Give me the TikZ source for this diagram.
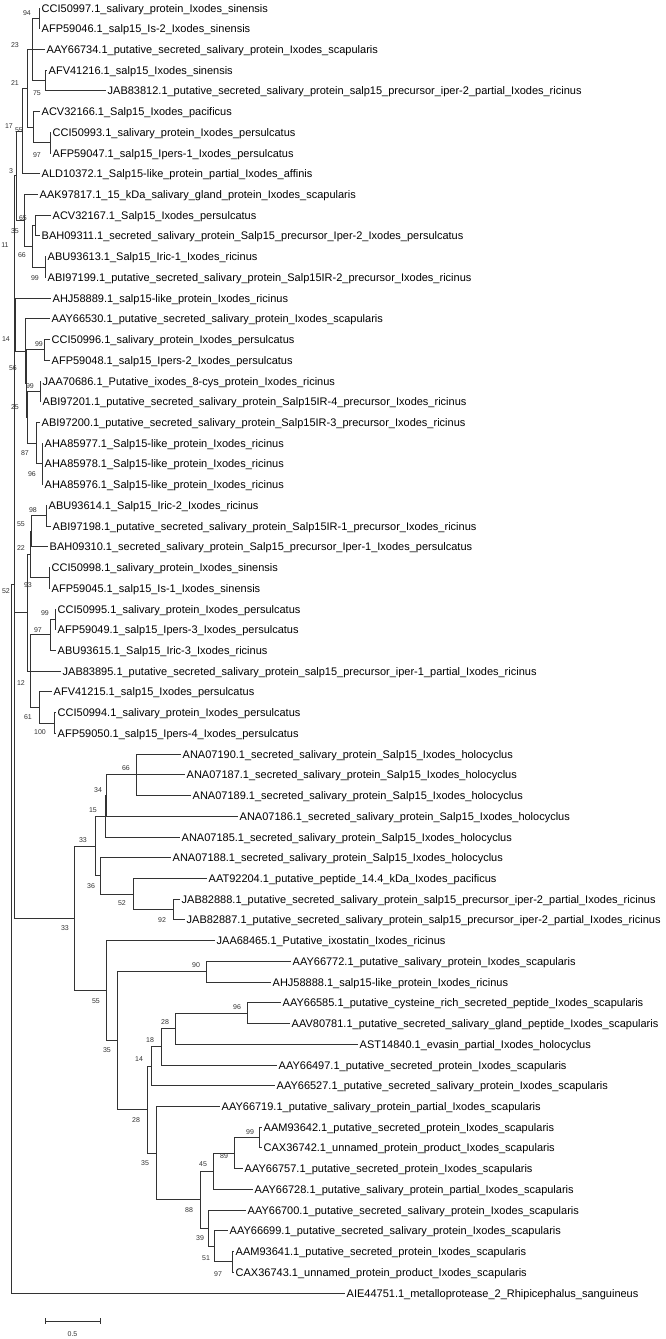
\documentclass[tikz,border=0pt]{standalone}
\usepackage{fontspec}
\setmainfont{Liberation Sans}
\usetikzlibrary{calc}
\tikzset{
 leaf/.style={anchor=west, inner xsep=1.5pt, inner ysep=0pt, text height=8pt, text depth=0pt, font=\fontsize{11}{11}\selectfont, text=black},
 bs/.style={inner sep=0pt, font=\fontsize{7}{7}\selectfont, text=black!80},
 br/.style={draw=black!80, line width=1pt},
}
\newcommand\lf[3]{\node[leaf] (l#1) at (#2,{8+(#1-1)*20.726}) {#3};}
\newcommand\tn[4]{\path let \p1=(#3), \p2=(#4) in ({#2pt},{(\y1+\y2)/2}) coordinate (#1);
 \draw[br] (#1) |- (#3); \draw[br] (#1) |- (#4);}
\newcommand\tnm[5]{\path let \p1=(#3), \p2=(#5) in ({#2pt},{(\y1+\y2)/2}) coordinate (#1);
 \draw[br] (#1) |- (#3); \draw[br] (#1) |- (#4); \draw[br] (#1) |- (#5);}
\begin{document}
\begin{tikzpicture}[x=1pt,y=-1pt]
\useasboundingbox (0,0) rectangle (665,1339);
\lf{1}{40}{CCI50997.1\_salivary\_protein\_Ixodes\_sinensis}
\lf{2}{40}{AFP59046.1\_salp15\_Is-2\_Ixodes\_sinensis}
\lf{3}{45}{AAY66734.1\_putative\_secreted\_salivary\_protein\_Ixodes\_scapularis}
\lf{4}{47}{AFV41216.1\_salp15\_Ixodes\_sinensis}
\lf{5}{106}{JAB83812.1\_putative\_secreted\_salivary\_protein\_salp15\_precursor\_iper-2\_partial\_Ixodes\_ricinus}
\lf{6}{40}{ACV32166.1\_Salp15\_Ixodes\_pacificus}
\lf{7}{51}{CCI50993.1\_salivary\_protein\_Ixodes\_persulcatus}
\lf{8}{51}{AFP59047.1\_salp15\_Ipers-1\_Ixodes\_persulcatus}
\lf{9}{40}{ALD10372.1\_Salp15-like\_protein\_partial\_Ixodes\_affinis}
\lf{10}{38}{AAK97817.1\_15\_kDa\_salivary\_gland\_protein\_Ixodes\_scapularis}
\lf{11}{51}{ACV32167.1\_Salp15\_Ixodes\_persulcatus}
\lf{12}{40}{BAH09311.1\_secreted\_salivary\_protein\_Salp15\_precursor\_Iper-2\_Ixodes\_persulcatus}
\lf{13}{46}{ABU93613.1\_Salp15\_Iric-1\_Ixodes\_ricinus}
\lf{14}{46}{ABI97199.1\_putative\_secreted\_salivary\_protein\_Salp15IR-2\_precursor\_Ixodes\_ricinus}
\lf{15}{51}{AHJ58889.1\_salp15-like\_protein\_Ixodes\_ricinus}
\lf{16}{50}{AAY66530.1\_putative\_secreted\_salivary\_protein\_Ixodes\_scapularis}
\lf{17}{50}{CCI50996.1\_salivary\_protein\_Ixodes\_persulcatus}
\lf{18}{50}{AFP59048.1\_salp15\_Ipers-2\_Ixodes\_persulcatus}
\lf{19}{41}{JAA70686.1\_Putative\_ixodes\_8-cys\_protein\_Ixodes\_ricinus}
\lf{20}{41}{ABI97201.1\_putative\_secreted\_salivary\_protein\_Salp15IR-4\_precursor\_Ixodes\_ricinus}
\lf{21}{40}{ABI97200.1\_putative\_secreted\_salivary\_protein\_Salp15IR-3\_precursor\_Ixodes\_ricinus}
\lf{22}{43}{AHA85977.1\_Salp15-like\_protein\_Ixodes\_ricinus}
\lf{23}{43}{AHA85978.1\_Salp15-like\_protein\_Ixodes\_ricinus}
\lf{24}{43}{AHA85976.1\_Salp15-like\_protein\_Ixodes\_ricinus}
\lf{25}{47}{ABU93614.1\_Salp15\_Iric-2\_Ixodes\_ricinus}
\lf{26}{51}{ABI97198.1\_putative\_secreted\_salivary\_protein\_Salp15IR-1\_precursor\_Ixodes\_ricinus}
\lf{27}{48}{BAH09310.1\_secreted\_salivary\_protein\_Salp15\_precursor\_Iper-1\_Ixodes\_persulcatus}
\lf{28}{50}{CCI50998.1\_salivary\_protein\_Ixodes\_sinensis}
\lf{29}{50}{AFP59045.1\_salp15\_Is-1\_Ixodes\_sinensis}
\lf{30}{56}{CCI50995.1\_salivary\_protein\_Ixodes\_persulcatus}
\lf{31}{56}{AFP59049.1\_salp15\_Ipers-3\_Ixodes\_persulcatus}
\lf{32}{56}{ABU93615.1\_Salp15\_Iric-3\_Ixodes\_ricinus}
\lf{33}{61}{JAB83895.1\_putative\_secreted\_salivary\_protein\_salp15\_precursor\_iper-1\_partial\_Ixodes\_ricinus}
\lf{34}{52}{AFV41215.1\_salp15\_Ixodes\_persulcatus}
\lf{35}{56}{CCI50994.1\_salivary\_protein\_Ixodes\_persulcatus}
\lf{36}{56}{AFP59050.1\_salp15\_Ipers-4\_Ixodes\_persulcatus}
\lf{37}{181}{ANA07190.1\_secreted\_salivary\_protein\_Salp15\_Ixodes\_holocyclus}
\lf{38}{185}{ANA07187.1\_secreted\_salivary\_protein\_Salp15\_Ixodes\_holocyclus}
\lf{39}{191}{ANA07189.1\_secreted\_salivary\_protein\_Salp15\_Ixodes\_holocyclus}
\lf{40}{238}{ANA07186.1\_secreted\_salivary\_protein\_Salp15\_Ixodes\_holocyclus}
\lf{41}{180}{ANA07185.1\_secreted\_salivary\_protein\_Salp15\_Ixodes\_holocyclus}
\lf{42}{171}{ANA07188.1\_secreted\_salivary\_protein\_Salp15\_Ixodes\_holocyclus}
\lf{43}{207}{AAT92204.1\_putative\_peptide\_14.4\_kDa\_Ixodes\_pacificus}
\lf{44}{180}{JAB82888.1\_putative\_secreted\_salivary\_protein\_salp15\_precursor\_iper-2\_partial\_Ixodes\_ricinus}
\lf{45}{185}{JAB82887.1\_putative\_secreted\_salivary\_protein\_salp15\_precursor\_iper-2\_partial\_Ixodes\_ricinus}
\lf{46}{215}{JAA68465.1\_Putative\_ixostatin\_Ixodes\_ricinus}
\lf{47}{291}{AAY66772.1\_putative\_salivary\_protein\_Ixodes\_scapularis}
\lf{48}{271}{AHJ58888.1\_salp15-like\_protein\_Ixodes\_ricinus}
\lf{49}{281}{AAY66585.1\_putative\_cysteine\_rich\_secreted\_peptide\_Ixodes\_scapularis}
\lf{50}{290}{AAV80781.1\_putative\_secreted\_salivary\_gland\_peptide\_Ixodes\_scapularis}
\lf{51}{358}{AST14840.1\_evasin\_partial\_Ixodes\_holocyclus}
\lf{52}{277}{AAY66497.1\_putative\_secreted\_protein\_Ixodes\_scapularis}
\lf{53}{275}{AAY66527.1\_putative\_secreted\_salivary\_protein\_Ixodes\_scapularis}
\lf{54}{220}{AAY66719.1\_putative\_salivary\_protein\_partial\_Ixodes\_scapularis}
\lf{55}{262}{AAM93642.1\_putative\_secreted\_protein\_Ixodes\_scapularis}
\lf{56}{262}{CAX36742.1\_unnamed\_protein\_product\_Ixodes\_scapularis}
\lf{57}{243}{AAY66757.1\_putative\_secreted\_protein\_Ixodes\_scapularis}
\lf{58}{253}{AAY66728.1\_putative\_salivary\_protein\_partial\_Ixodes\_scapularis}
\lf{59}{246}{AAY66700.1\_putative\_secreted\_salivary\_protein\_Ixodes\_scapularis}
\lf{60}{228}{AAY66699.1\_putative\_secreted\_salivary\_protein\_Ixodes\_scapularis}
\lf{61}{234}{AAM93641.1\_putative\_secreted\_protein\_Ixodes\_scapularis}
\lf{62}{234}{CAX36743.1\_unnamed\_protein\_product\_Ixodes\_scapularis}
\lf{63}{345}{AIE44751.1\_metalloprotease\_2\_Rhipicephalus\_sanguineus}
% upper clade
\tn{A1}{39}{l1.west}{l2.west}
\tn{B}{45}{l4.west}{l5.west}
\tnm{N}{32}{A1}{l3.west}{B}
\tn{G}{50}{l7.west}{l8.west}
\tn{F}{33}{l6.west}{G}
\tn{M1}{27}{N}{F}
\tn{M2}{22}{M1}{l9.west}
\tn{I1}{35}{l11.west}{l12.west}
\tn{I2}{45}{l13.west}{l14.west}
\tn{I3}{32}{I1}{I2}
\tn{I4}{24}{l10.west}{I3}
\tn{M3}{16}{M2}{I4}
\tn{Ka}{44}{l17.west}{l18.west}
\tn{Kb}{40}{l19.west}{l20.west}
\tnm{Kd}{42}{l22.west}{l23.west}{l24.west}
\tn{Ke}{36}{l21.west}{Kd}
\tn{Kf}{27.5}{Kb}{Ke}
\tn{Kg}{26.5}{Ka}{Kf}
\tn{Kh}{25.5}{l16.west}{Kg}
\tn{TB}{15.5}{l15.west}{Kh}
\tn{TC}{14.8}{M3}{TB}
\tn{P1}{46}{l25.west}{l26.west}
\tn{P2}{31.5}{P1}{l27.west}
\tn{P4}{49}{l28.west}{l29.west}
\tn{P3}{30.5}{P2}{P4}
\tn{Q0}{55}{l30.west}{l31.west}
\tn{Q1}{50}{Q0}{l32.west}
\tn{Q3p}{54}{l35.west}{l36.west}
\tn{Q3}{39}{l34.west}{Q3p}
\tnm{Q5}{30}{Q1}{l33.west}{Q3}
\tn{T1}{27}{P3}{Q5}
% lower clade
\tnm{R1}{136}{l37.west}{l38.west}{l39.west}
\tn{R2}{106}{R1}{l40.west}
\tn{R3}{105}{R2}{l41.west}
\tn{S2}{173}{l44.west}{l45.west}
\tn{S1}{133}{l43.west}{S2}
\tn{S3}{100}{l42.west}{S1}
\tn{R4}{95}{R3}{S3}
\tn{V}{206}{l47.west}{l48.west}
\tn{Y1}{247}{l49.west}{l50.west}
\tn{Y2}{175}{Y1}{l51.west}
\tn{Y3}{161}{Y2}{l52.west}
\tn{Y4}{151}{Y3}{l53.west}
\tn{Z0}{259}{l55.west}{l56.west}
\tn{Z1a}{234}{Z0}{l57.west}
\tn{Z1}{213}{Z1a}{l58.west}
\tn{Z2b}{232}{l61.west}{l62.west}
\tn{Z2a}{214}{l60.west}{Z2b}
\tn{Z2}{208}{l59.west}{Z2a}
\tn{Z}{200}{Z1}{Z2}
\tn{X2}{156}{l54.west}{Z}
\tn{W}{147}{Y4}{X2}
\tn{U}{117}{V}{W}
\tn{T}{106}{l46.west}{U}
\tn{R5}{74}{R4}{T}
% base
\tnm{X0}{14}{TC}{T1}{R5}
\tn{Rt}{11}{X0}{l63.west}
% bootstrap values
\node[bs] (b1) at (27,13) {94};
\node[bs] (b2) at (15,45) {23};
\node[bs] (b3) at (15,83) {21};
\node[bs] (b4) at (37,93) {75};
\node[bs] (b5) at (9,126) {17};
\node[bs] (b6) at (19,130) {55};
\node[bs] (b7) at (37,155) {97};
\node[bs] (b8) at (11,171) {3};
\node[bs] (b9) at (23,218) {65};
\node[bs] (b10) at (15,231) {35};
\node[bs] (b11) at (5,245) {11};
\node[bs] (b12) at (22,255) {66};
\node[bs] (b13) at (35,278) {99};
\node[bs] (b14) at (6,339) {14};
\node[bs] (b15) at (39,344) {99};
\node[bs] (b16) at (13,368) {56};
\node[bs] (b17) at (30,386) {99};
\node[bs] (b18) at (15,407) {25};
\node[bs] (b19) at (25,453) {87};
\node[bs] (b20) at (32,474) {96};
\node[bs] (b21) at (33,510) {98};
\node[bs] (b22) at (21,524) {55};
\node[bs] (b23) at (21,548) {22};
\node[bs] (b24) at (28,585) {93};
\node[bs] (b25) at (6,591) {52};
\node[bs] (b26) at (45,613) {99};
\node[bs] (b27) at (38,630) {97};
\node[bs] (b28) at (21,683) {12};
\node[bs] (b29) at (28,717) {61};
\node[bs] (b30) at (40,732) {100};
\node[bs] (b31) at (126,768) {66};
\node[bs] (b32) at (98,790) {34};
\node[bs] (b33) at (93,810) {15};
\node[bs] (b34) at (83,840) {33};
\node[bs] (b35) at (91,886) {36};
\node[bs] (b36) at (122,903) {52};
\node[bs] (b37) at (162,920) {92};
\node[bs] (b38) at (65,928) {33};
\node[bs] (b39) at (196,965) {90};
\node[bs] (b40) at (96,1001) {55};
\node[bs] (b41) at (237,1007) {96};
\node[bs] (b42) at (165,1022) {28};
\node[bs] (b43) at (150,1040) {18};
\node[bs] (b44) at (107,1050) {35};
\node[bs] (b45) at (139,1059) {14};
\node[bs] (b46) at (136,1120) {28};
\node[bs] (b47) at (250,1132) {99};
\node[bs] (b48) at (224,1156) {89};
\node[bs] (b49) at (145,1163) {35};
\node[bs] (b50) at (203,1164) {45};
\node[bs] (b51) at (189,1210) {88};
\node[bs] (b52) at (200,1238) {39};
\node[bs] (b53) at (206,1258) {51};
\node[bs] (b54) at (218,1274) {97};
% scale bar
\coordinate (sbA) at (45,1321);
\coordinate (sbB) at (100,1321);
\draw[br] (sbA) -- (sbB);
\draw[br] ([yshift=3pt]sbA) -- ([yshift=-3pt]sbA);
\draw[br] ([yshift=3pt]sbB) -- ([yshift=-3pt]sbB);
\node[bs] (sbl) at (72.5,1334) {0.5};
\end{tikzpicture}
\end{document}
